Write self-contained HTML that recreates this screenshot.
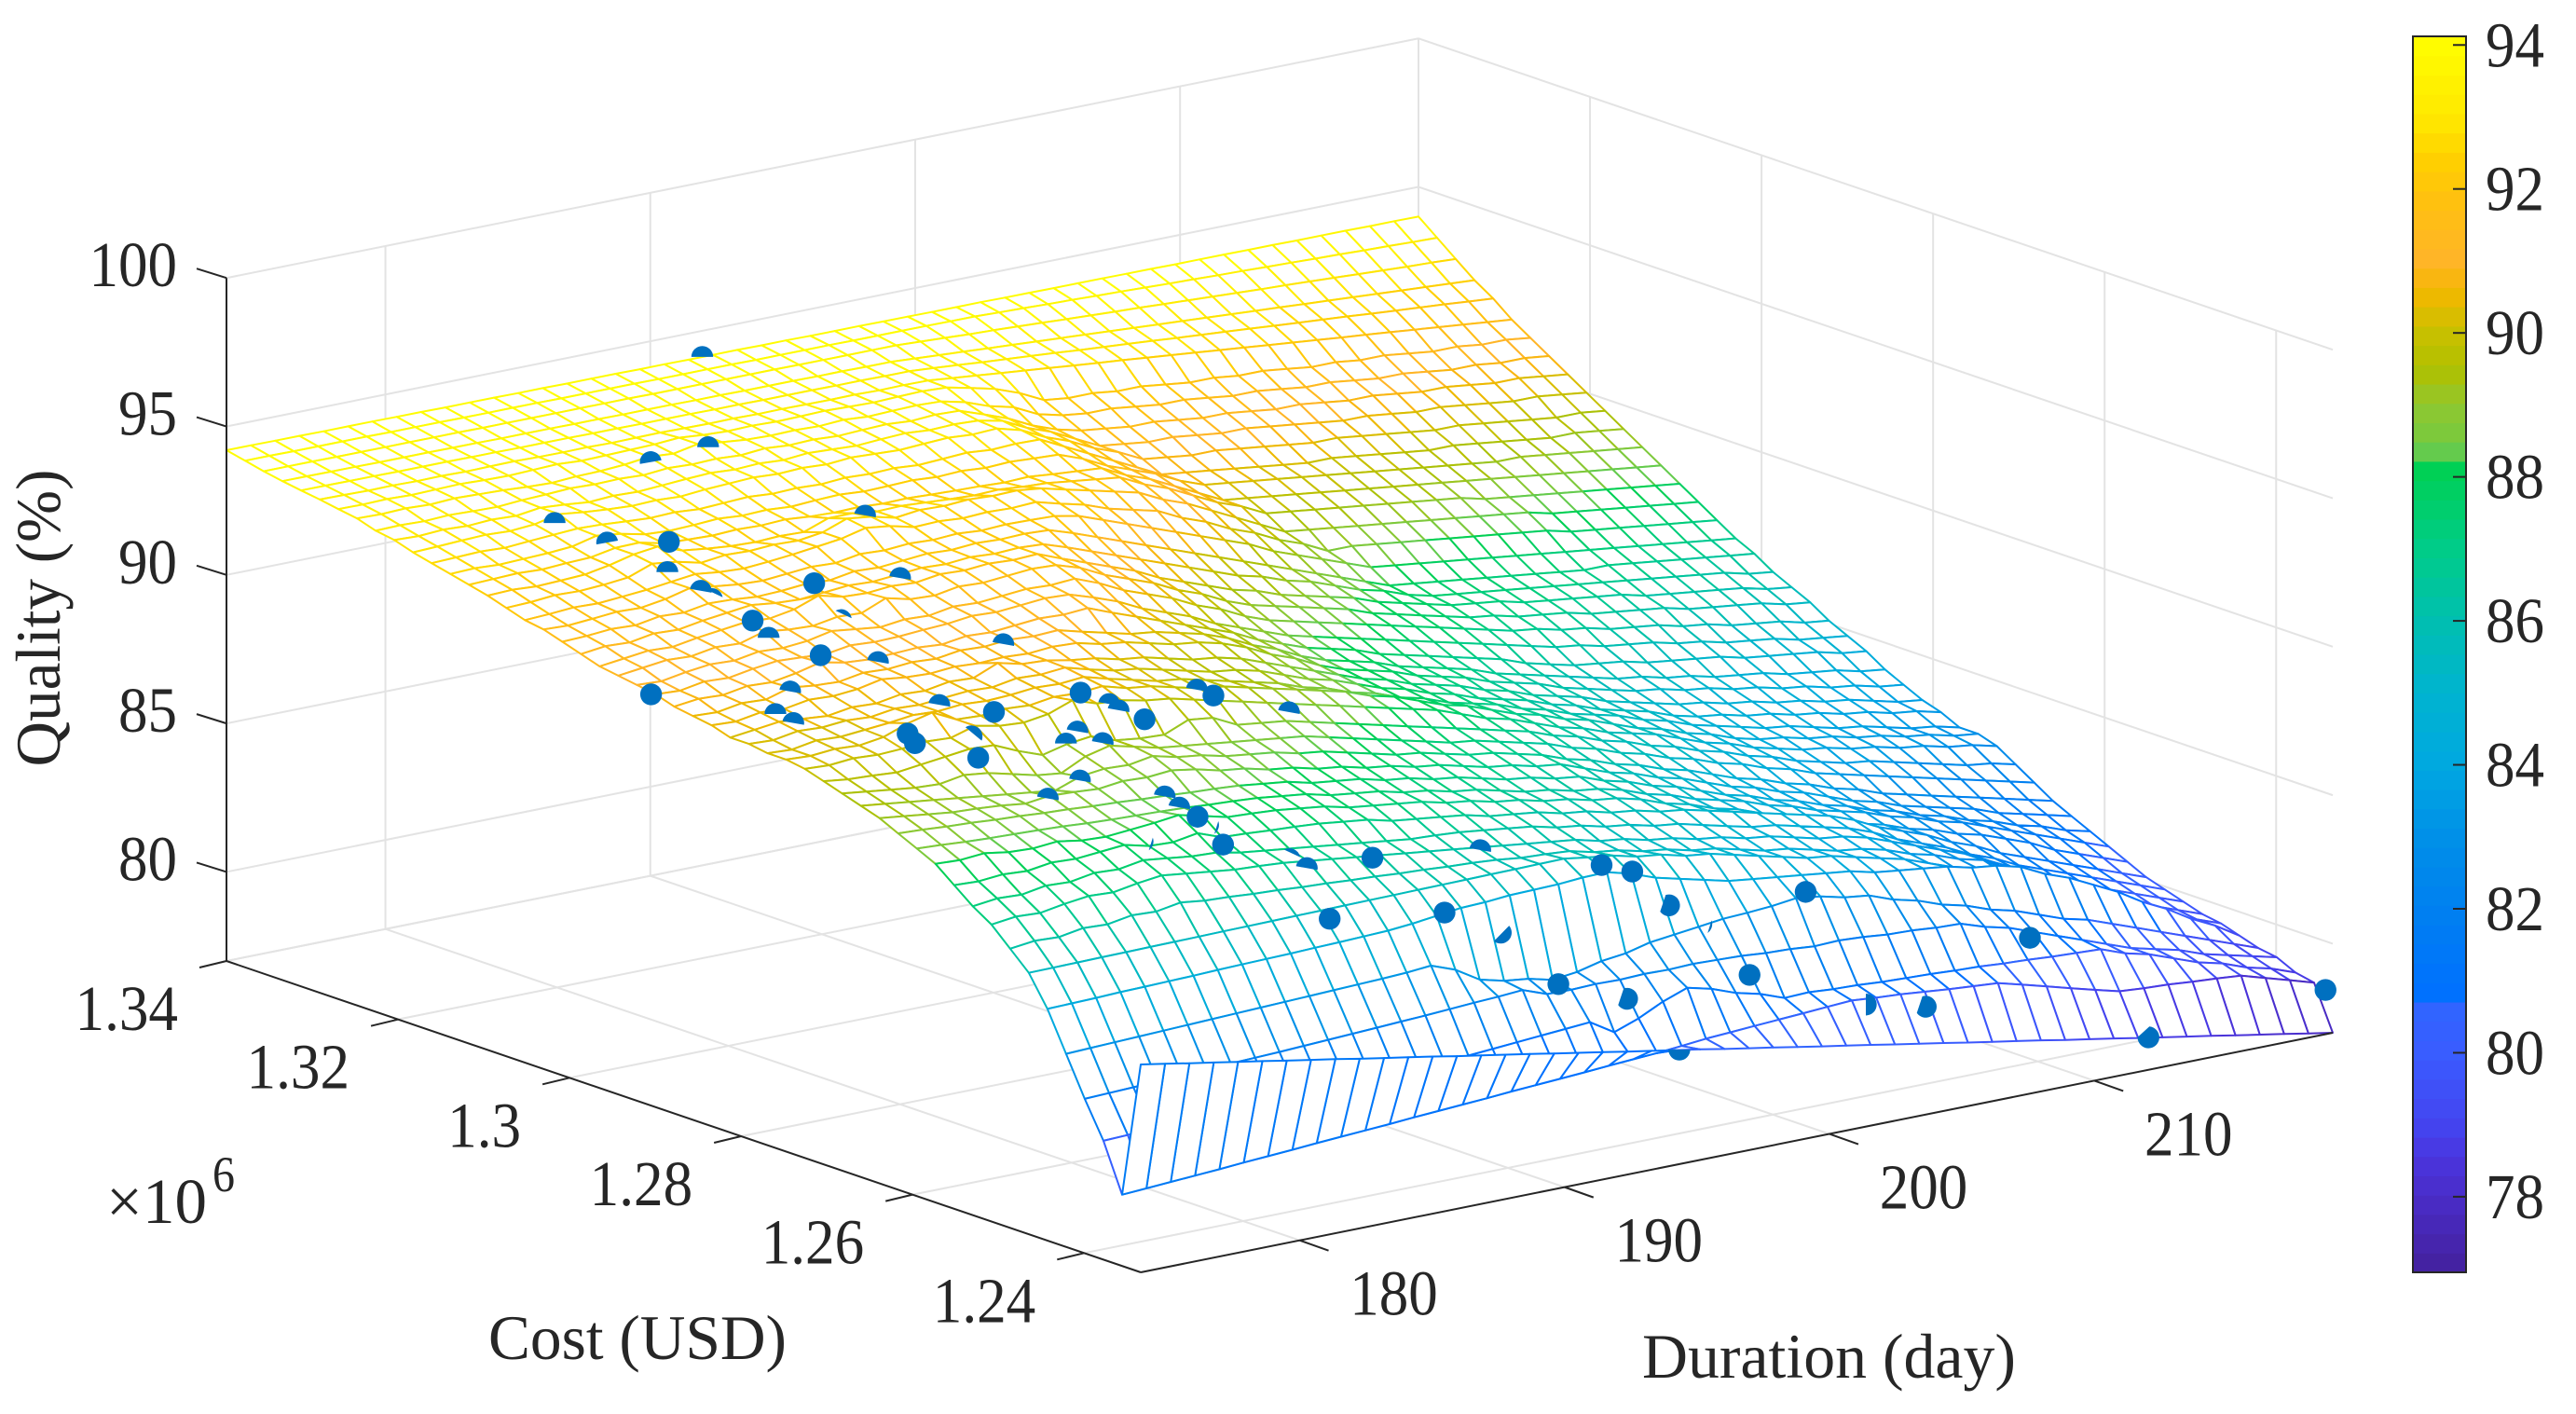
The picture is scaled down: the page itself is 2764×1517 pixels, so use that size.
<!DOCTYPE html>
<html lang="en">
<head>
<meta charset="utf-8">
<title>Quality surface over duration and cost</title>
<style>
html,body{margin:0;padding:0;background:#fff;}
#chart{display:block;width:2764px;height:1517px;}
text{font-family:"Liberation Serif",serif;fill:#262626;}
</style>
</head>
<body>
<svg id="chart" xmlns="http://www.w3.org/2000/svg" width="2764" height="1517" viewBox="0 0 2764 1517">
<rect x="0" y="0" width="2764" height="1517" fill="#fff"/>
<g id="grid"></g>
<g id="surface"></g>
<g id="axes"></g>
<g id="colorbar"></g>
<text transform="translate(64,663) rotate(-90)" text-anchor="middle" font-size="68" textLength="319" lengthAdjust="spacingAndGlyphs">Quality (%)</text>
<text x="524" y="1458" font-size="68" textLength="320" lengthAdjust="spacingAndGlyphs">Cost (USD)</text>
<text x="1762" y="1478" font-size="68" textLength="401" lengthAdjust="spacingAndGlyphs">Duration (day)</text>
<text x="114" y="1312" font-size="69" textLength="108" lengthAdjust="spacingAndGlyphs">×10</text>
<text x="228" y="1278" font-size="54" textLength="24" lengthAdjust="spacingAndGlyphs">6</text>
</svg>
<script>
const durationLimits = [174, 219];
const costLimits = [1.2334, 1.34];
const qualityLimits = [77, 100];
const durationTicks = [180, 190, 200, 210];
const costTicks = [1.34, 1.32, 1.3, 1.28, 1.26, 1.24];
const costTickLabels = ['1.34', '1.32', '1.3', '1.28', '1.26', '1.24'];
const qualityTicks = [80, 85, 90, 95, 100];
const colorbarTicks = [78, 80, 82, 84, 86, 88, 90, 92, 94];
const colorbarLimits = [76.95, 94.12];
const colormapValues = [76.95, 78, 78.5, 79, 80, 80.7, 80.8, 82, 83, 84, 85, 86, 87, 88.2, 88.3, 88.6, 89, 89.5, 90, 90.6, 91, 91.8, 92.4, 93, 94.12];
const colormapColors = ['#43209c', '#4a2cc8', '#4a34dc', '#4444f0', '#3a5cff', '#2f66ff', '#0070ff', '#0080f0', '#0090e8', '#00a8e0', '#00b4d0', '#00bfb0', '#00cc88', '#00d050', '#5fcc50', '#7cc93c', '#90c830', '#b0c000', '#c8c000', '#f5b800', '#ffb428', '#ffc010', '#ffd000', '#ffe800', '#ffff00'];

const markerDurations = [191.8,187.1,184.9,179.2,179.5,180.6,179.7,179.6,179.7,187.1,182.2,184.6,181.3,180.2,179.8,179.4,180.3,183.9,174.1,177.6,176.3,176.1,179.8,180.6,178.7,178.2,179.4,179.1,184,184.3,184.3,184.7,188,188.4,190.7,183.3,182.8,183.7,182,180.4,182.9,182.9,183.3,183.6,183,180.9,184.6,184.8,187.7,184.5,190.8,194.7,195.6,201.4,196.6,188.9,190.7,197.3,192,199.25,193.85,201.6,194.3,208.7,203.7,211.2,218.5];
const markerCosts = [1.3395,1.3243,1.3242,1.3178,1.3126,1.3088,1.3062,1.302,1.301,1.306,1.2968,1.2942,1.2909,1.2978,1.2947,1.2874,1.2835,1.28,1.2908,1.2854,1.2831,1.2804,1.2748,1.2709,1.2751,1.2727,1.2698,1.2681,1.2713,1.2689,1.2678,1.266,1.2701,1.2694,1.2677,1.2695,1.2693,1.2678,1.2652,1.264,1.2581,1.2564,1.2555,1.2552,1.2516,1.2545,1.2488,1.2474,1.2487,1.2438,1.2457,1.2436,1.2428,1.2405,1.2416,1.244,1.243,1.24,1.2403,1.2404,1.238,1.2341,1.2333,1.2369,1.2336,1.2308,1.2327];
const markerQualities = [94.2,93.5,93.4,93,92.8,93,92.4,92.2,92,93,92.5,92.5,92,91.5,91.3,91.5,91.5,91.8,90.8,90.8,90.5,90.5,91,91,90.2,90.2,90.5,90,91,90.8,90.7,90.5,90.5,90.3,89.5,90,89.7,89.7,89,88.8,89,88.8,88.5,88.2,88,88.2,87.5,87.3,87,86,87,86,85.7,84.2,84.5,85.4,84.5,83.9,82.8,81.8,82.2,81,80.87,81.7,80.6,78.5,78.6];
const markerVisibility = ['top','top','tilt','top','tilt','full','top','down','sliver','down','full','down','sliver','full','top','full','down','down','full','down','top','down','down','full','full','full','wedge','full','full','down','down','full','down','full','down','down','top','down','down','down','down','down','full','narrow','full','narrow','sliver','down','full','full','down','full','full','full','rightMost','full','lowerRight','narrow','full','full','rightMost','rightHalf','bottom','full','rightMost','mostFull','full'];
const visibleArcs = {top:[180,360],tilt:[170,350],down:[190,370],sliver:[240,350],wedge:[236,383],narrow:[340,415],rightMost:[252,505],lowerRight:[320,489],rightHalf:[270,450],bottom:[0,180],mostFull:[275,540]};

const surfaceQuality = [
[94.20,94.20,94.19,94.19,94.18,94.18,94.18,94.17,94.17,94.16,94.16,94.16,94.15,94.15,94.14,94.14,94.14,94.13,94.13,94.12,94.12,94.12,94.11,94.11,94.10,94.10,94.10,94.09,94.09,94.08,94.08,94.08,94.07,94.07,94.06,94.06,94.06,94.05,94.05,94.04,94.04,94.04,94.03,94.03,94.02,94.02,94.02,94.01,94.01,94.00],
[94.06,94.06,94.05,94.05,94.05,94.05,94.04,94.04,94.04,94.03,94.03,94.03,94.03,94.02,94.02,94.02,94.02,94.01,94.01,94.01,94.01,94.00,94.00,94.00,94.00,93.99,93.99,93.99,93.99,93.98,93.98,93.95,93.93,93.90,93.88,93.85,93.83,93.80,93.77,93.75,93.72,93.70,93.67,93.65,93.62,93.60,93.57,93.55,93.52,93.50],
[93.92,93.92,93.92,93.91,93.91,93.91,93.91,93.91,93.91,93.90,93.90,93.90,93.90,93.90,93.90,93.90,93.89,93.89,93.89,93.89,93.89,93.89,93.88,93.88,93.88,93.88,93.88,93.84,93.80,93.76,93.73,93.69,93.65,93.61,93.57,93.53,93.50,93.46,93.42,93.38,93.34,93.30,93.27,93.23,93.19,93.15,93.11,93.07,93.04,93.00],
[93.80,93.80,93.79,93.79,93.78,93.78,93.78,93.77,93.77,93.76,93.76,93.76,93.75,93.75,93.74,93.74,93.74,93.73,93.73,93.72,93.72,93.72,93.71,93.71,93.70,93.70,93.65,93.60,93.55,93.50,93.45,93.40,93.35,93.30,93.25,93.20,93.15,93.10,93.05,93.00,92.95,92.90,92.85,92.80,92.75,92.70,92.65,92.60,92.55,92.50],
[93.70,93.70,93.69,93.69,93.68,93.68,93.68,93.67,93.67,93.66,93.66,93.66,93.65,93.65,93.64,93.64,93.64,93.63,93.63,93.62,93.62,93.62,93.61,93.61,93.60,93.60,93.54,93.48,93.41,93.35,93.29,93.23,93.16,93.10,93.04,92.98,92.91,92.85,92.79,92.73,92.66,92.60,92.54,92.48,92.41,92.35,92.29,92.23,92.16,92.10],
[93.61,93.60,93.58,93.59,93.57,93.58,93.56,93.57,93.58,93.56,93.55,93.56,93.54,93.55,93.56,93.54,93.53,93.54,93.52,93.53,93.52,93.51,93.52,93.50,93.51,93.50,93.42,93.34,93.26,93.18,93.10,93.02,92.94,92.87,92.79,92.71,92.63,92.55,92.47,92.39,92.31,92.23,92.15,92.08,92.00,91.92,91.84,91.76,91.68,91.60],
[93.50,93.49,93.51,93.48,93.50,93.52,93.49,93.47,93.50,93.53,93.48,93.50,93.52,93.54,93.60,93.53,93.49,93.51,93.48,93.50,93.52,93.49,93.47,93.50,93.52,93.48,93.3,93.1,92.8,92.4,92.3,92.3,92.2,92.2,92.1,92.0,92.0,91.9,91.9,91.8,91.7,91.7,91.6,91.6,91.5,91.4,91.4,91.3,91.3,91.2],
[93.4,93.38,93.41,93.37,93.42,93.39,93.36,93.31,93.28,93.33,93.35,93.4,93.5,93.44,93.6,93.5,93.42,93.39,93.41,93.38,93.43,93.37,93.4,93.42,93.39,93.2,92.9,92.7,92.3,92.1,92.0,92.0,91.9,91.8,91.8,91.7,91.6,91.6,91.5,91.4,91.4,91.3,91.2,91.2,91.1,91.0,91.0,90.9,90.9,90.8],
[93.2,93.22,93.19,93.23,93.2,93.18,93.24,93.27,93.31,93.28,93.3,93.26,93.33,93.29,93.32,93.27,93.34,93.28,93.31,93.26,93.3,93.33,93.27,93.32,93.29,93.0,92.7,92.3,92.0,91.8,91.7,91.6,91.6,91.5,91.4,91.4,91.3,91.2,91.2,91.1,91.0,91.0,90.9,90.8,90.8,90.7,90.6,90.6,90.5,90.4],
[93.1,93.07,93.12,93.08,93.13,93.09,93.2,93.14,93.06,93.11,93.08,93.13,93.18,93.22,93.17,93.21,93.16,93.23,93.19,93.15,93.2,93.24,93.18,93.21,93.17,93.0,92.6,92.3,91.9,91.5,91.4,91.3,91.3,91.2,91.1,91.1,91.0,90.9,90.8,90.7,90.7,90.6,90.5,90.5,90.4,90.3,90.2,90.2,90.1,90.0],
[92.9,92.93,92.97,93.0,92.96,93.02,93.2,93.1,93.03,92.98,93.01,92.97,93.04,93.08,93.12,93.07,93.11,93.06,93.13,93.09,93.05,93.1,93.14,93.08,93.12,92.9,92.5,92.2,91.8,91.5,91.1,91.0,90.9,90.9,90.8,90.7,90.6,90.5,90.5,90.4,90.3,90.2,90.1,90.1,90.0,89.9,89.8,89.7,89.7,89.6],
[92.75,92.78,92.81,92.77,92.83,92.88,92.93,92.9,92.84,92.79,92.82,92.76,92.8,92.84,92.78,92.81,92.77,92.83,92.79,92.82,92.76,92.8,92.85,92.78,92.82,92.8,92.4,92.0,91.6,91.2,90.8,90.7,90.6,90.5,90.4,90.3,90.2,90.2,90.1,90.0,89.9,89.8,89.8,89.7,89.6,89.5,89.4,89.4,89.3,89.2],
[92.6,92.63,92.58,92.61,92.64,92.7,92.9,92.8,92.62,92.57,92.6,92.65,92.59,92.62,92.56,92.61,92.64,92.58,92.6,92.63,92.57,92.61,92.55,92.59,92.54,92.5,92.2,91.8,91.5,91.2,90.8,90.5,90.4,90.3,90.2,90.1,90.0,89.9,89.8,89.7,89.6,89.5,89.4,89.3,89.3,89.2,89.1,89.0,88.9,88.8],
[92.45,92.48,92.51,92.47,92.52,92.55,92.7,92.72,92.53,92.49,92.46,92.5,92.47,92.51,92.44,92.41,92.43,92.38,92.4,92.36,92.33,92.31,92.27,92.3,92.22,92.16,92.1,91.7,91.4,91.0,90.6,90.2,90.1,90.0,89.9,89.8,89.7,89.6,89.5,89.4,89.3,89.2,89.1,89.0,88.9,88.8,88.7,88.6,88.5,88.4],
[92.3,92.33,92.28,92.31,92.35,92.5,92.7,92.8,92.5,92.4,92.32,92.29,92.33,92.3,92.6,92.6,92.5,92.52,92.47,92.42,92.38,92.41,92.34,92.3,92.2,92.1,92.0,91.6,91.3,90.9,90.5,90.2,89.8,89.7,89.6,89.5,89.4,89.3,89.2,89.1,89.0,88.8,88.7,88.6,88.5,88.4,88.3,88.2,88.1,88.0],
[92.1,92.13,92.2,92.17,92.22,92.3,92.6,92.5,92.3,92.4,92.37,92.42,92.39,92.5,92.8,92.7,92.5,92.6,92.57,92.62,92.58,92.6,92.5,92.3,92.1,91.9,91.7,91.3,91.0,90.6,90.2,89.8,89.4,89.3,89.2,89.1,89.0,88.9,88.8,88.7,88.6,88.5,88.4,88.2,88.1,88.0,87.9,87.8,87.7,87.6],
[91.9,91.94,92.0,91.97,92.03,92.1,92.2,92.3,92.2,92.16,92.22,92.3,92.4,92.5,92.7,92.6,92.4,92.43,92.37,92.41,92.38,92.42,92.2,92.0,91.7,91.5,91.3,90.9,90.6,90.2,89.9,89.5,89.2,88.8,88.8,88.7,88.6,88.5,88.4,88.3,88.2,88.1,88.0,87.8,87.7,87.6,87.5,87.4,87.3,87.2],
[91.8,91.77,91.83,91.9,91.87,92.0,92.2,92.1,92.0,91.96,92.03,92.1,92.06,92.2,92.16,92.22,92.18,92.23,92.17,92.21,92.19,92.16,92.0,91.7,91.4,91.1,90.8,90.5,90.2,89.9,89.5,89.2,88.9,88.6,88.3,88.2,88.1,88.0,87.9,87.8,87.7,87.6,87.5,87.4,87.3,87.2,87.1,87.0,86.9,86.8],
[91.6,91.63,91.7,91.66,91.8,91.76,91.9,91.87,91.8,91.83,91.9,91.86,92.0,91.96,92.03,92.1,92.06,92.12,92.08,92.11,92.07,91.8,91.5,91.2,90.9,90.6,90.3,90.0,89.7,89.4,89.1,88.8,88.5,88.2,87.9,87.8,87.7,87.6,87.5,87.4,87.3,87.2,87.1,87.1,87.0,86.9,86.8,86.7,86.6,86.5],
[91.4,91.5,91.46,91.6,91.56,91.7,91.8,91.9,91.8,91.76,91.83,91.9,91.86,91.93,92.0,91.96,92.03,91.98,92.02,91.97,91.7,91.4,91.1,90.8,90.5,90.2,89.9,89.6,89.4,89.1,88.9,88.6,88.3,88.1,87.8,87.6,87.5,87.4,87.3,87.2,87.1,87.0,86.9,86.8,86.7,86.6,86.5,86.4,86.2,86.1],
[91.2,91.3,91.4,91.36,91.5,91.6,91.7,91.66,91.8,92.1,91.9,91.86,91.93,91.88,92.0,91.96,92.03,91.98,92.02,91.7,91.4,91.1,90.8,90.4,90.1,89.8,89.5,89.3,89.0,88.8,88.6,88.4,88.1,87.9,87.7,87.5,87.4,87.3,87.1,87.0,86.9,86.8,86.7,86.5,86.4,86.3,86.2,86.1,85.9,85.8],
[91.1,91.2,91.3,91.26,91.4,91.36,91.6,91.5,91.46,91.6,91.56,91.9,91.7,91.66,91.8,91.76,91.83,91.9,91.86,91.6,91.2,90.9,90.6,90.2,89.9,89.5,89.2,89.0,88.8,88.6,88.4,88.1,87.9,87.7,87.5,87.3,87.2,87.0,86.9,86.8,86.6,86.5,86.4,86.3,86.1,86.0,85.9,85.8,85.6,85.5],
[91.0,90.96,91.1,91.2,91.16,91.3,91.26,91.33,91.5,91.4,91.3,91.4,91.36,91.5,91.46,91.53,91.6,91.56,91.62,91.3,90.9,90.6,90.3,89.9,89.6,89.2,88.9,88.7,88.5,88.3,88.1,87.9,87.7,87.5,87.3,87.1,86.9,86.8,86.6,86.5,86.3,86.2,86.1,85.9,85.8,85.6,85.5,85.4,85.2,85.1],
[90.9,90.86,91.0,90.96,91.1,91.2,91.16,91.1,91.23,91.18,91.2,91.26,91.3,91.4,91.36,91.43,91.5,91.46,91.2,90.9,90.5,90.2,89.9,89.5,89.2,88.9,88.6,88.4,88.2,88.0,87.8,87.6,87.4,87.2,87.0,86.8,86.6,86.4,86.3,86.1,86.0,85.9,85.7,85.6,85.4,85.3,85.2,85.0,84.9,84.8],
[90.7,90.8,90.76,90.9,90.86,91.0,91.2,91.03,90.97,91.0,91.04,90.98,91.1,91.06,91.13,91.2,91.16,91.22,90.9,90.6,90.3,90.0,89.7,89.4,89.0,88.7,88.4,88.2,88.0,87.7,87.5,87.3,87.1,86.9,86.7,86.4,86.2,86.0,85.9,85.8,85.6,85.5,85.4,85.3,85.1,85.0,84.9,84.8,84.6,84.5],
[90.6,90.56,90.7,90.66,90.9,90.8,90.76,90.9,90.86,90.93,90.88,91.0,90.96,91.03,90.98,91.02,90.8,90.6,90.4,90.3,90.1,89.9,89.6,89.2,88.9,88.5,88.2,88.0,87.8,87.5,87.3,87.1,86.9,86.6,86.4,86.2,86.0,85.8,85.6,85.5,85.3,85.2,85.0,84.9,84.8,84.6,84.5,84.4,84.2,84.1],
[90.5,90.46,90.6,90.56,90.7,90.66,90.73,90.9,90.8,90.76,90.83,90.78,90.82,90.77,90.84,90.8,90.6,90.5,90.3,90.1,90.0,89.8,89.5,89.1,88.8,88.4,88.1,87.9,87.7,87.4,87.2,87.0,86.7,86.5,86.3,86.0,85.8,85.6,85.4,85.3,85.1,85.0,84.8,84.7,84.5,84.4,84.2,84.1,83.9,83.8],
[90.3,90.4,90.5,90.44,90.37,90.5,90.46,90.6,90.56,90.7,90.66,91.0,90.8,90.76,90.6,90.5,90.3,90.2,90.0,89.8,89.7,89.5,89.2,88.9,88.6,88.3,88.0,87.8,87.5,87.3,87.1,86.8,86.6,86.3,86.1,85.9,85.6,85.4,85.2,85.0,84.9,84.7,84.6,84.4,84.3,84.1,84.0,83.8,83.6,83.5],
[90.3,90.26,90.4,90.36,90.43,90.38,90.5,90.46,90.53,90.6,90.56,90.7,90.66,90.73,90.5,90.3,90.2,90.0,89.8,89.6,89.5,89.3,89.0,88.7,88.5,88.2,87.9,87.7,87.4,87.2,86.9,86.7,86.5,86.2,86.0,85.7,85.5,85.3,85.0,84.8,84.7,84.5,84.4,84.2,84.1,83.9,83.8,83.6,83.5,83.3],
[90.2,90.16,90.3,90.26,90.33,90.4,90.5,90.46,90.53,90.48,90.52,90.6,90.56,90.63,90.4,90.2,90.0,89.9,89.7,89.5,89.3,89.1,88.8,88.6,88.3,88.1,87.8,87.6,87.3,87.1,86.9,86.6,86.4,86.1,85.9,85.7,85.4,85.2,84.9,84.7,84.5,84.3,84.2,84.0,83.8,83.7,83.5,83.3,83.2,83.0],
[90.2,90.16,90.23,90.18,90.3,90.6,90.8,90.4,90.36,90.43,90.38,90.5,90.46,90.53,90.3,90.2,90.0,89.8,89.7,89.5,89.3,89.1,88.9,88.7,88.4,88.2,87.9,87.6,87.4,87.1,86.8,86.6,86.3,86.1,85.8,85.5,85.3,85.0,84.8,84.5,84.3,84.2,84.0,83.9,83.7,83.6,83.4,83.3,83.1,83.0],
[90.1,90.06,90.13,90.08,90.12,90.2,90.16,90.4,90.23,90.18,90.3,90.6,90.33,90.27,90.1,90.0,89.8,89.6,89.4,89.2,89.0,88.8,88.6,88.4,88.2,88.0,87.8,87.5,87.2,87.0,86.7,86.4,86.2,85.9,85.7,85.5,85.2,84.9,84.7,84.4,84.2,84.0,83.9,83.7,83.6,83.4,83.3,83.1,83.0,82.8],
[89.9,89.8,89.76,89.7,89.8,89.9,90.0,89.96,89.6,89.3,89.5,89.6,89.3,89.2,89.16,89.5,89.4,89.0,88.9,88.8,88.6,88.4,88.2,88.0,87.8,87.6,87.4,87.2,87.0,86.8,86.5,86.3,86.0,85.8,85.5,85.3,85.0,84.8,84.5,84.3,84.0,83.8,83.6,83.5,83.3,83.1,82.9,82.7,82.6,82.4],
[89.7,89.6,89.5,89.4,89.36,89.5,89.4,89.2,89.0,88.9,89.3,89.5,89.3,89.1,89.0,88.9,88.8,88.7,88.6,88.5,88.3,88.1,87.9,87.7,87.5,87.3,87.2,87.0,86.8,86.6,86.3,86.1,85.8,85.6,85.3,85.1,84.8,84.6,84.3,84.1,83.8,83.6,83.4,83.2,83.0,82.8,82.6,82.4,82.2,82.0],
[89.5,89.4,89.3,89.2,89.1,89.0,88.9,88.8,88.7,89.0,89.1,89.06,89.2,89.0,88.9,88.7,88.6,88.5,88.3,88.2,88.0,87.8,87.6,87.5,87.3,87.1,87.0,86.8,86.6,86.3,86.1,85.8,85.6,85.3,85.1,84.8,84.5,84.3,84.0,83.8,83.5,83.3,83.0,82.8,82.6,82.4,82.2,82.0,81.8,81.6],
[89.3,89.2,89.1,89.0,88.96,88.9,88.8,88.9,88.86,88.8,88.9,88.86,88.93,88.8,88.6,88.5,88.3,88.2,88.0,87.9,87.7,87.6,87.4,87.3,87.1,86.9,86.8,86.6,86.5,86.2,85.9,85.7,85.4,85.2,84.9,84.6,84.4,84.1,83.9,83.6,83.3,83.1,82.8,82.6,82.4,82.2,81.9,81.7,81.5,81.3],
[89.0,88.96,88.9,88.86,88.8,88.76,88.7,88.66,88.6,88.56,88.5,88.46,88.4,88.36,88.3,88.2,88.1,87.9,87.8,87.7,87.5,87.4,87.2,87.1,86.9,86.7,86.6,86.4,86.3,86.0,85.8,85.5,85.3,85.0,84.7,84.5,84.2,84.0,83.7,83.5,83.2,83.0,82.7,82.5,82.2,82.0,81.7,81.5,81.2,81.0],
[88.7,88.66,88.6,88.56,88.53,88.5,88.46,88.4,88.36,88.33,88.3,88.26,88.2,88.16,88.1,88.0,87.9,87.7,87.6,87.5,87.3,87.2,87.0,86.9,86.7,86.5,86.4,86.2,86.1,85.9,85.6,85.4,85.1,84.9,84.7,84.4,84.2,83.9,83.7,83.5,83.2,83.0,82.7,82.5,82.2,81.9,81.6,81.3,81.0,80.7],
[88.4,88.36,88.43,88.3,88.26,88.33,88.2,88.16,88.23,88.3,88.4,88.2,88.0,87.96,87.9,87.8,87.7,87.5,87.4,87.3,87.2,87.0,86.9,86.7,86.6,86.4,86.3,86.1,86.0,85.8,85.5,85.3,85.0,84.8,84.5,84.3,84.0,83.8,83.5,83.3,83.0,82.8,82.5,82.3,82.0,81.7,81.3,81.0,80.7,80.4],
[87.9,87.86,87.93,87.88,88.0,87.96,88.03,88.1,87.9,87.86,88.0,87.7,87.66,87.6,87.56,87.5,87.4,87.3,87.1,87.0,86.9,86.8,86.6,86.5,86.4,86.2,86.1,85.9,85.8,85.6,85.5,85.3,85.1,84.9,84.7,84.5,84.3,84.0,83.6,83.3,83.0,82.6,82.3,81.9,81.6,81.3,81.0,80.7,80.4,80.1],
[87.4,87.5,87.46,87.6,87.56,87.7,87.66,87.8,87.7,87.6,87.56,87.4,87.3,87.2,87.1,87.0,86.9,86.8,86.7,86.66,86.6,86.5,86.4,86.3,86.1,86.0,85.8,85.7,85.5,85.4,85.2,85.0,84.8,84.7,84.5,84.3,84.1,83.8,83.4,83.1,82.8,82.4,82.1,81.7,81.4,81.1,80.8,80.5,80.2,79.9],
[87.0,87.1,87.06,87.2,87.3,87.26,87.4,87.5,87.4,87.3,87.2,87.16,87.1,87.0,86.9,86.8,86.7,86.6,86.5,86.4,86.3,86.2,86.1,86.0,85.9,85.7,85.6,85.4,85.3,85.1,85.0,84.8,84.7,84.5,84.3,84.2,84.0,83.7,83.4,83.1,82.8,82.4,82.0,81.6,81.2,80.9,80.6,80.3,80.0,79.7],
[86.4,86.5,86.46,86.6,86.56,86.7,86.66,86.8,86.7,86.66,86.6,86.56,86.5,86.46,86.4,86.36,86.3,86.26,86.2,86.16,86.1,86.0,85.96,85.9,85.7,85.6,85.4,85.3,85.1,85.0,84.8,84.6,84.5,84.3,84.1,84.0,83.8,83.5,83.3,83.0,82.8,82.3,81.9,81.4,81.0,80.7,80.4,80.1,79.8,79.5],
[85.80,85.81,85.82,85.83,85.84,85.85,85.86,85.87,85.88,85.89,85.90,85.91,85.92,85.93,85.94,85.95,85.96,85.97,85.98,85.99,86.00,86.01,86.02,85.9,85.8,85.6,85.5,85.3,85.2,85.0,84.8,84.6,84.4,84.3,84.1,83.9,83.7,83.4,83.1,82.9,82.6,82.2,81.8,81.3,80.9,80.6,80.3,80.0,79.7,79.4],
[84.8,84.82,84.84,84.87,84.89,84.91,84.93,84.96,84.98,85.0,85.02,85.05,85.07,85.1,85.13,85.2,85.3,85.4,85.43,85.5,85.52,85.54,85.6,85.62,85.4,85.1,84.9,84.7,84.5,84.4,84.3,84.2,84.1,84.0,83.8,83.7,83.6,83.5,83.3,83.2,83.0,82.6,82.3,81.9,81.5,81.0,80.6,80.1,79.7,79.2],
[83.5,83.53,83.56,83.59,83.62,83.65,83.68,83.71,83.74,83.77,83.8,83.83,83.86,83.89,83.93,84.0,83.7,83.2,83.0,82.9,82.7,82.8,83.0,83.1,83.3,83.4,83.5,83.6,83.64,83.7,83.8,83.7,83.5,83.4,83.1,82.9,82.6,82.4,82.1,81.9,81.6,81.3,81.1,80.8,80.5,80.2,79.9,79.6,79.3,79.0],
[82.2,82.23,82.26,82.29,82.33,82.36,82.4,82.43,82.46,82.5,82.54,82.58,82.62,82.66,82.7,82.75,82.8,82.84,82.9,82.6,82.58,82.61,82.59,82.62,82.6,82.63,82.6,82.57,82.5,82.47,82.4,82.43,82.38,82.3,82.27,82.2,82.17,81.9,81.7,81.4,81.1,80.8,80.5,80.2,80.0,79.8,79.5,79.3,79.1,78.9],
[81.0,81.03,81.06,81.09,81.12,81.15,81.18,81.21,81.24,81.27,81.3,81.32,81.34,81.36,81.38,81.4,81.46,81.52,81.58,81.64,81.7,81.2,81.5,81.9,82.2,82.0,81.7,81.5,81.2,81.23,81.17,81.14,81.08,81.05,81.02,80.97,80.94,80.88,80.84,80.78,80.74,80.7,80.4,80.2,79.9,79.6,79.4,79.1,78.9,78.6],
[79.4,79.45,79.5,79.55,79.6,79.66,79.71,79.76,79.82,79.87,79.92,79.97,80.03,80.08,80.13,80.18,80.24,80.29,80.34,80.39,80.45,80.5,80.55,80.62,80.7,80.75,80.8,80.85,80.9,80.95,81.0,80.93,80.88,80.8,80.72,80.66,80.6,80.38,80.16,79.93,79.71,79.5,79.44,79.4,79.33,79.27,79.2,78.96,78.72,78.47],
[84.0,83.86,83.71,83.57,83.43,83.29,83.14,83.0,82.86,82.71,82.57,82.43,82.29,82.14,82.0,81.86,81.72,81.57,81.43,81.29,81.14,81.0,80.86,80.72,80.57,80.43,80.29,80.14,80.0,79.86,79.72,79.57,79.43,79.29,79.14,79.0,78.86,78.72,78.57,78.43,78.29,78.14,78.0,77.86,77.72,77.57,77.43,77.29,77.14,77.0]
];

const SVG_NS = 'http://www.w3.org/2000/svg';
const AXIS_COLOR = '#262626';
const GRID_COLOR = '#e3e3e3';
const MARKER_COLOR = '#0070c0';
const MARKER_RADIUS = 11.7;

function screenX(duration, cost) {
  return 243 + (duration - durationLimits[0]) * 1279 / (durationLimits[1] - durationLimits[0]) + (costLimits[1] - cost) * 981 / (costLimits[1] - costLimits[0]);
}
function screenY(duration, cost, quality) {
  return 1031 - (duration - durationLimits[0]) * 257 / (durationLimits[1] - durationLimits[0]) + (costLimits[1] - cost) * 334 / (costLimits[1] - costLimits[0]) - (quality - qualityLimits[0]) * 31.86;
}
function node(parent, tag, attrs) {
  const el = document.createElementNS(SVG_NS, tag);
  for (const k in attrs) el.setAttribute(k, attrs[k]);
  parent.appendChild(el);
  return el;
}
function hexToRgb(h) {
  return [parseInt(h.slice(1, 3), 16), parseInt(h.slice(3, 5), 16), parseInt(h.slice(5, 7), 16)];
}
function colormap(value) {
  const n = colormapValues.length;
  if (value <= colormapValues[0]) return colormapColors[0];
  if (value >= colormapValues[n - 1]) return colormapColors[n - 1];
  let k = 0;
  while (value > colormapValues[k + 1]) k++;
  const t = (value - colormapValues[k]) / (colormapValues[k + 1] - colormapValues[k]);
  const a = hexToRgb(colormapColors[k]);
  const b = hexToRgb(colormapColors[k + 1]);
  return 'rgb(' + Math.round(a[0] + (b[0] - a[0]) * t) + ',' + Math.round(a[1] + (b[1] - a[1]) * t) + ',' + Math.round(a[2] + (b[2] - a[2]) * t) + ')';
}
function quantised(value) {
  const span = colorbarLimits[1] - colorbarLimits[0];
  const level = Math.min(63, Math.max(0, Math.floor((value - colorbarLimits[0]) / span * 64)));
  return colormap(colorbarLimits[0] + (level + 0.5) * span / 64);
}
function labelWidth(s) {
  let w = 0;
  for (const ch of s) w += ch === '.' ? 16 : 31.5;
  return w;
}

/* grid */
const gridGroup = document.getElementById('grid');
function gridLine(x1, y1, x2, y2) {
  const el = node(gridGroup, 'line', {x1: x1, y1: y1, x2: x2, y2: y2, stroke: GRID_COLOR, 'stroke-width': 2});
  
  
}
const dMin = durationLimits[0], dMax = durationLimits[1], cMin = costLimits[0], cMax = costLimits[1], qMin = qualityLimits[0], qMax = qualityLimits[1];
durationTicks.forEach(function (d) {
  gridLine(screenX(d, cMax), screenY(d, cMax, qMin), screenX(d, cMin), screenY(d, cMin, qMin));
  gridLine(screenX(d, cMax), screenY(d, cMax, qMin), screenX(d, cMax), screenY(d, cMax, qMax));
});
costTicks.forEach(function (c) {
  gridLine(screenX(dMin, c), screenY(dMin, c, qMin), screenX(dMax, c), screenY(dMax, c, qMin));
  gridLine(screenX(dMax, c), screenY(dMax, c, qMin), screenX(dMax, c), screenY(dMax, c, qMax));
});
[qMin].concat(qualityTicks).forEach(function (q) {
  gridLine(screenX(dMin, cMax), screenY(dMin, cMax, q), screenX(dMax, cMax), screenY(dMax, cMax, q));
  gridLine(screenX(dMax, cMax), screenY(dMax, cMax, q), screenX(dMax, cMin), screenY(dMax, cMin, q));
});

/* surface */
const surfaceGroup = document.getElementById('surface');
const rowCount = surfaceQuality.length;
const colCount = 50;
function colDuration(i) { return dMin + i * (dMax - dMin) / (colCount - 1); }
function rowCost(j) { return cMax - j * (cMax - cMin) / (rowCount - 1); }
function surfaceValue(i, j) {
  const row = surfaceQuality[j];
  return row[i] !== undefined ? row[i] : row[row.length - 1];
}
for (let j = 0; j < rowCount - 1; j++) {
  for (let i = colCount - 2; i >= 0; i--) {
    const corners = [[i, j], [i + 1, j], [i + 1, j + 1], [i, j + 1]];
    let sum = 0;
    const pts = corners.map(function (p) {
      const q = surfaceValue(p[0], p[1]);
      sum += q;
      const d = colDuration(p[0]);
      const c = rowCost(p[1]);
      return screenX(d, c).toFixed(1) + ',' + screenY(d, c, q).toFixed(1);
    }).join(' ');
    const cell = node(surfaceGroup, 'polygon', {
      points: pts,
      fill: '#fff',
      stroke: quantised(sum / 4),
      'stroke-width': 2,
      'stroke-linejoin': 'round'
    });
    
    
  }
}

/* data points, drawn over the mesh with the part the mesh hides removed */
function arcPath(cx, cy, r, startDeg, endDeg) {
  const a = startDeg * Math.PI / 180;
  const b = endDeg * Math.PI / 180;
  const large = endDeg - startDeg > 180 ? 1 : 0;
  return 'M' + (cx + r * Math.cos(a)).toFixed(2) + ' ' + (cy + r * Math.sin(a)).toFixed(2) +
    'A' + r + ' ' + r + ' 0 ' + large + ' 1 ' + (cx + r * Math.cos(b)).toFixed(2) + ' ' + (cy + r * Math.sin(b)).toFixed(2) + 'Z';
}
markerDurations.forEach(function (d, k) {
  const cx = screenX(d, markerCosts[k]);
  const cy = screenY(d, markerCosts[k], markerQualities[k]);
  const arc = visibleArcs[markerVisibility[k]];
  let el;
  if (arc) {
    el = node(surfaceGroup, 'path', {d: arcPath(cx, cy, MARKER_RADIUS, arc[0], arc[1]), fill: MARKER_COLOR});
  } else {
    el = node(surfaceGroup, 'circle', {cx: cx, cy: cy, r: MARKER_RADIUS, fill: MARKER_COLOR});
  }
  
  
});

/* axes */
const axesGroup = document.getElementById('axes');
function axisLine(name, x1, y1, x2, y2) {
  const el = node(axesGroup, 'line', {x1: x1, y1: y1, x2: x2, y2: y2, stroke: AXIS_COLOR, 'stroke-width': 2});
  
  
}
function tickText(name, x, y, anchor, content) {
  const el = node(axesGroup, 'text', {x: x, y: y, 'text-anchor': anchor, 'font-size': 69, textLength: labelWidth(content), lengthAdjust: 'spacingAndGlyphs'});
  el.textContent = content;
  
  
}
axisLine('z-axis-line', screenX(dMin, cMax), screenY(dMin, cMax, qMin), screenX(dMin, cMax), screenY(dMin, cMax, qMax));
axisLine('y-axis-line', screenX(dMin, cMax), screenY(dMin, cMax, qMin), screenX(dMin, cMin), screenY(dMin, cMin, qMin));
axisLine('x-axis-line', screenX(dMin, cMin), screenY(dMin, cMin, qMin), screenX(dMax, cMin), screenY(dMax, cMin, qMin));
durationTicks.forEach(function (d) {
  const x = screenX(d, cMin), y = screenY(d, cMin, qMin);
  axisLine('x-axis-tick', x, y, x + 31, y + 11);
  tickText('x-tick-label', x + 101, y + 80, 'middle', String(d));
});
costTicks.forEach(function (c, n) {
  const x = screenX(dMin, c), y = screenY(dMin, c, qMin);
  axisLine('y-axis-tick', x, y, x - 29, y + 7);
  tickText('y-tick-label', x - 52, y + 74, 'end', costTickLabels[n]);
});
qualityTicks.forEach(function (q) {
  const x = screenX(dMin, cMax), y = screenY(dMin, cMax, q);
  axisLine('z-axis-tick', x, y, x - 32, y - 10);
  tickText('z-tick-label', 190, y + 9, 'end', String(q));
});

/* colorbar */
const barGroup = document.getElementById('colorbar');
const BAR_LEFT = 2589, BAR_RIGHT = 2646, BAR_TOP = 39, BAR_BOTTOM = 1365;
function barY(value) {
  return BAR_BOTTOM - (value - colorbarLimits[0]) / (colorbarLimits[1] - colorbarLimits[0]) * (BAR_BOTTOM - BAR_TOP);
}
for (let level = 0; level < 64; level++) {
  const step = (colorbarLimits[1] - colorbarLimits[0]) / 64;
  const low = colorbarLimits[0] + level * step;
  const band = node(barGroup, 'rect', {
    x: BAR_LEFT,
    y: barY(low + step),
    width: BAR_RIGHT - BAR_LEFT,
    height: barY(low) - barY(low + step) + 0.6,
    fill: quantised(low + step / 2)
  });
  
  
}
const barFrame = node(barGroup, 'rect', {x: BAR_LEFT, y: BAR_TOP, width: BAR_RIGHT - BAR_LEFT, height: BAR_BOTTOM - BAR_TOP, fill: 'none', stroke: AXIS_COLOR, 'stroke-width': 2});


colorbarTicks.forEach(function (v) {
  const y = barY(v);
  const tick = node(barGroup, 'line', {x1: BAR_RIGHT - 14, y1: y, x2: BAR_RIGHT, y2: y, stroke: AXIS_COLOR, 'stroke-width': 2});
  
  
  const label = node(barGroup, 'text', {x: 2667, y: y + 23, 'font-size': 69, textLength: labelWidth(String(v)), lengthAdjust: 'spacingAndGlyphs'});
  label.textContent = String(v);
  
  
});
</script>
</body>
</html>
